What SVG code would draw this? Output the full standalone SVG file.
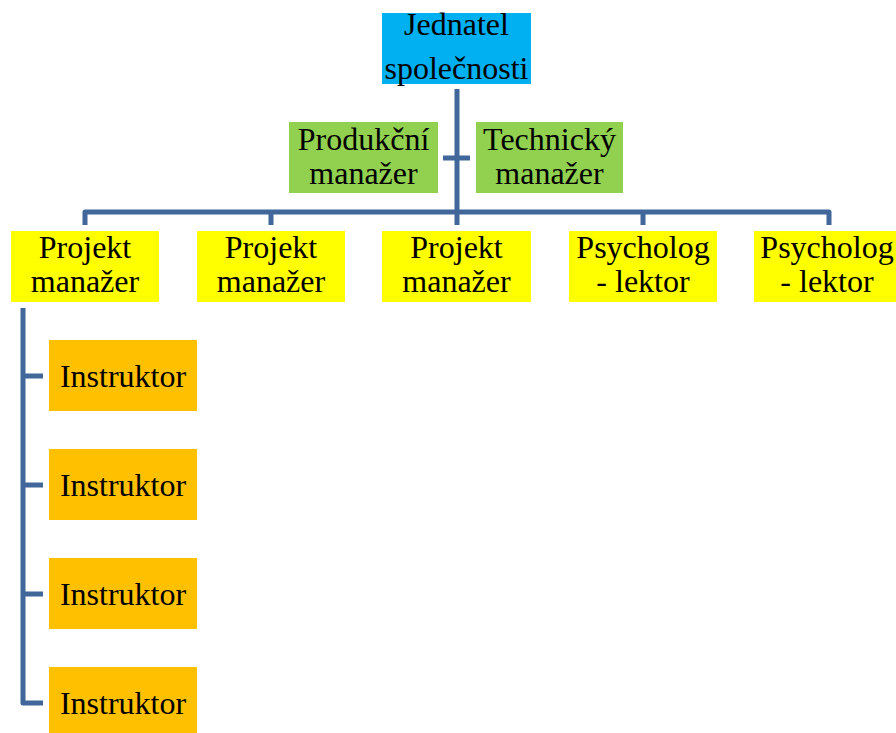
<svg xmlns="http://www.w3.org/2000/svg" width="896" height="733" viewBox="0 0 896 733">
<style>
text{font-family:"Liberation Serif","Times New Roman",serif;font-size:32px;fill:#000;text-anchor:middle}
.ln{fill:none;stroke:#41679a;stroke-width:5;stroke-linejoin:round}
.blue{fill:#00b0f0}.green{fill:#92d050}.yellow{fill:#ffff00}.orange{fill:#ffc000}
</style>
<rect width="896" height="733" fill="#fff"/>
<g id="connectors">
<path class="ln" d="M457 89V212"/>
<path class="ln" d="M443 158H470"/>
<path class="ln" d="M85 225V212H829V225"/>
<path class="ln" d="M271 212V225M457 212V225M643 212V225"/>
<path class="ln" d="M23 308V703H43"/>
<path class="ln" d="M23 376H43M23 485H43M23 594H43"/>
</g>
<g id="jednatel"><rect class="blue" x="382" y="13" width="149" height="71"/><text x="456.5" y="35">Jednatel</text><text x="456.5" y="79">společnosti</text></g>
<g id="produkcni"><rect class="green" x="289" y="122" width="149" height="71"/><text x="363.5" y="150">Produkční</text><text x="363.5" y="184">manažer</text></g>
<g id="technicky"><rect class="green" x="476" y="122" width="147" height="71"/><text x="549.5" y="150">Technický</text><text x="549.5" y="184">manažer</text></g>
<g id="pm1"><rect class="yellow" x="11" y="231" width="148" height="71"/><text x="85" y="258">Projekt</text><text x="85" y="292">manažer</text></g>
<g id="pm2"><rect class="yellow" x="197" y="231" width="148" height="71"/><text x="271" y="258">Projekt</text><text x="271" y="292">manažer</text></g>
<g id="pm3"><rect class="yellow" x="382" y="231" width="149" height="71"/><text x="456.5" y="258">Projekt</text><text x="456.5" y="292">manažer</text></g>
<g id="psy1"><rect class="yellow" x="569" y="231" width="148" height="71"/><text x="643" y="258">Psycholog</text><text x="643" y="292">- lektor</text></g>
<g id="psy2"><rect class="yellow" x="754" y="231" width="148" height="71"/><text x="827" y="258">Psycholog</text><text x="827" y="292">- lektor</text></g>
<g id="instr1"><rect class="orange" x="49" y="340" width="148" height="71"/><text x="123" y="387">Instruktor</text></g>
<g id="instr2"><rect class="orange" x="49" y="449" width="148" height="71"/><text x="123" y="496">Instruktor</text></g>
<g id="instr3"><rect class="orange" x="49" y="558" width="148" height="71"/><text x="123" y="605">Instruktor</text></g>
<g id="instr4"><rect class="orange" x="49" y="667" width="148" height="71"/><text x="123" y="714">Instruktor</text></g>
</svg>
